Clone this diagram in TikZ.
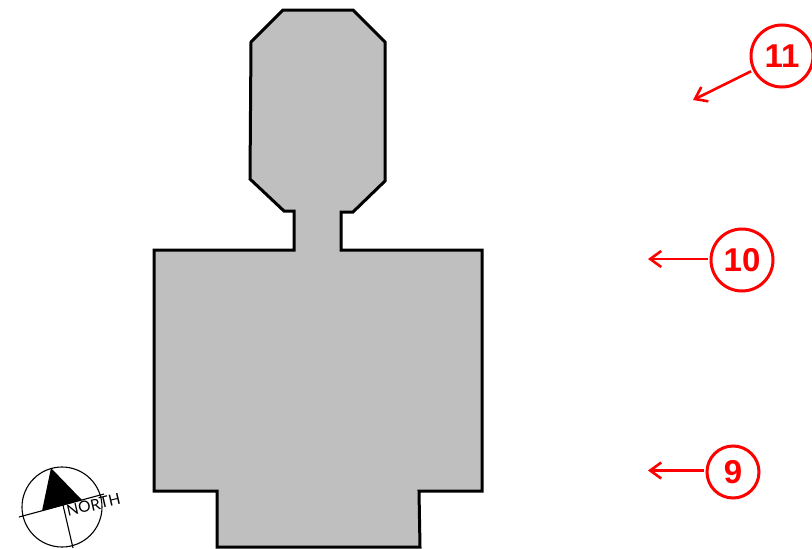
\documentclass[tikz,border=0pt]{standalone}
\usepackage{fontspec}
\setmainfont{Liberation Sans}
\newfontfamily\compassfont{Lato}
\usetikzlibrary{arrows.meta}

\begin{document}
\begin{tikzpicture}[
x=1pt, y=-1pt,
plan/.style={draw=black, fill=black!25, line width=3pt, line join=miter},
tag/.style={draw=red, circle, line width=3pt, inner sep=0pt, text=red, font=\bfseries\fontsize{33}{33}\selectfont},
lead/.style={draw=red, line width=2.6pt, shorten <=2pt},
>={Straight Barb[length=11pt, width=16pt, line width=2.6pt]}
]
\useasboundingbox (0,0) rectangle (812,549);
\draw[plan] (283,10) -- (353,10) -- (385,42) -- (385,181) -- (353,212) -- (341,212) -- (341,250) -- (482,250)
  -- (482,491) -- (419,491) -- (420,547) -- (217,547) -- (217,491) -- (154,491) -- (154,250) -- (294,250)
  -- (294,211) -- (284,211) -- (250,179) -- (251,42) -- cycle;
% compass
\draw[line width=1.1pt] (62,507) circle (40);
\fill (51,468) -- (42,511) -- (82,500) -- cycle;
\draw[line width=1.1pt] (19,517) -- (104,494);
\draw[line width=1.1pt] (63,505) -- (73,548);
\node[rotate=13, inner sep=0pt, font=\compassfont\fontsize{15.5}{15.5}\selectfont] (north) at (93.5,505) {NORTH};
% callouts
\node[tag, minimum size=62pt] (t11) at (782,56) {11};
\node[tag, minimum size=62pt] (t10) at (742,260) {10};
\node[tag, minimum size=52pt] (t9) at (733,472) {9};
\coordinate (p11) at (693,100);
\coordinate (p10) at (648,259);
\coordinate (p9) at (648,470.5);
\draw[lead, ->] (t11) -- (p11);
\draw[lead, ->] (p10 -| t10.west) -- (p10);
\draw[lead, ->] (p9 -| t9.west) -- (p9);
\end{tikzpicture}
\end{document}
